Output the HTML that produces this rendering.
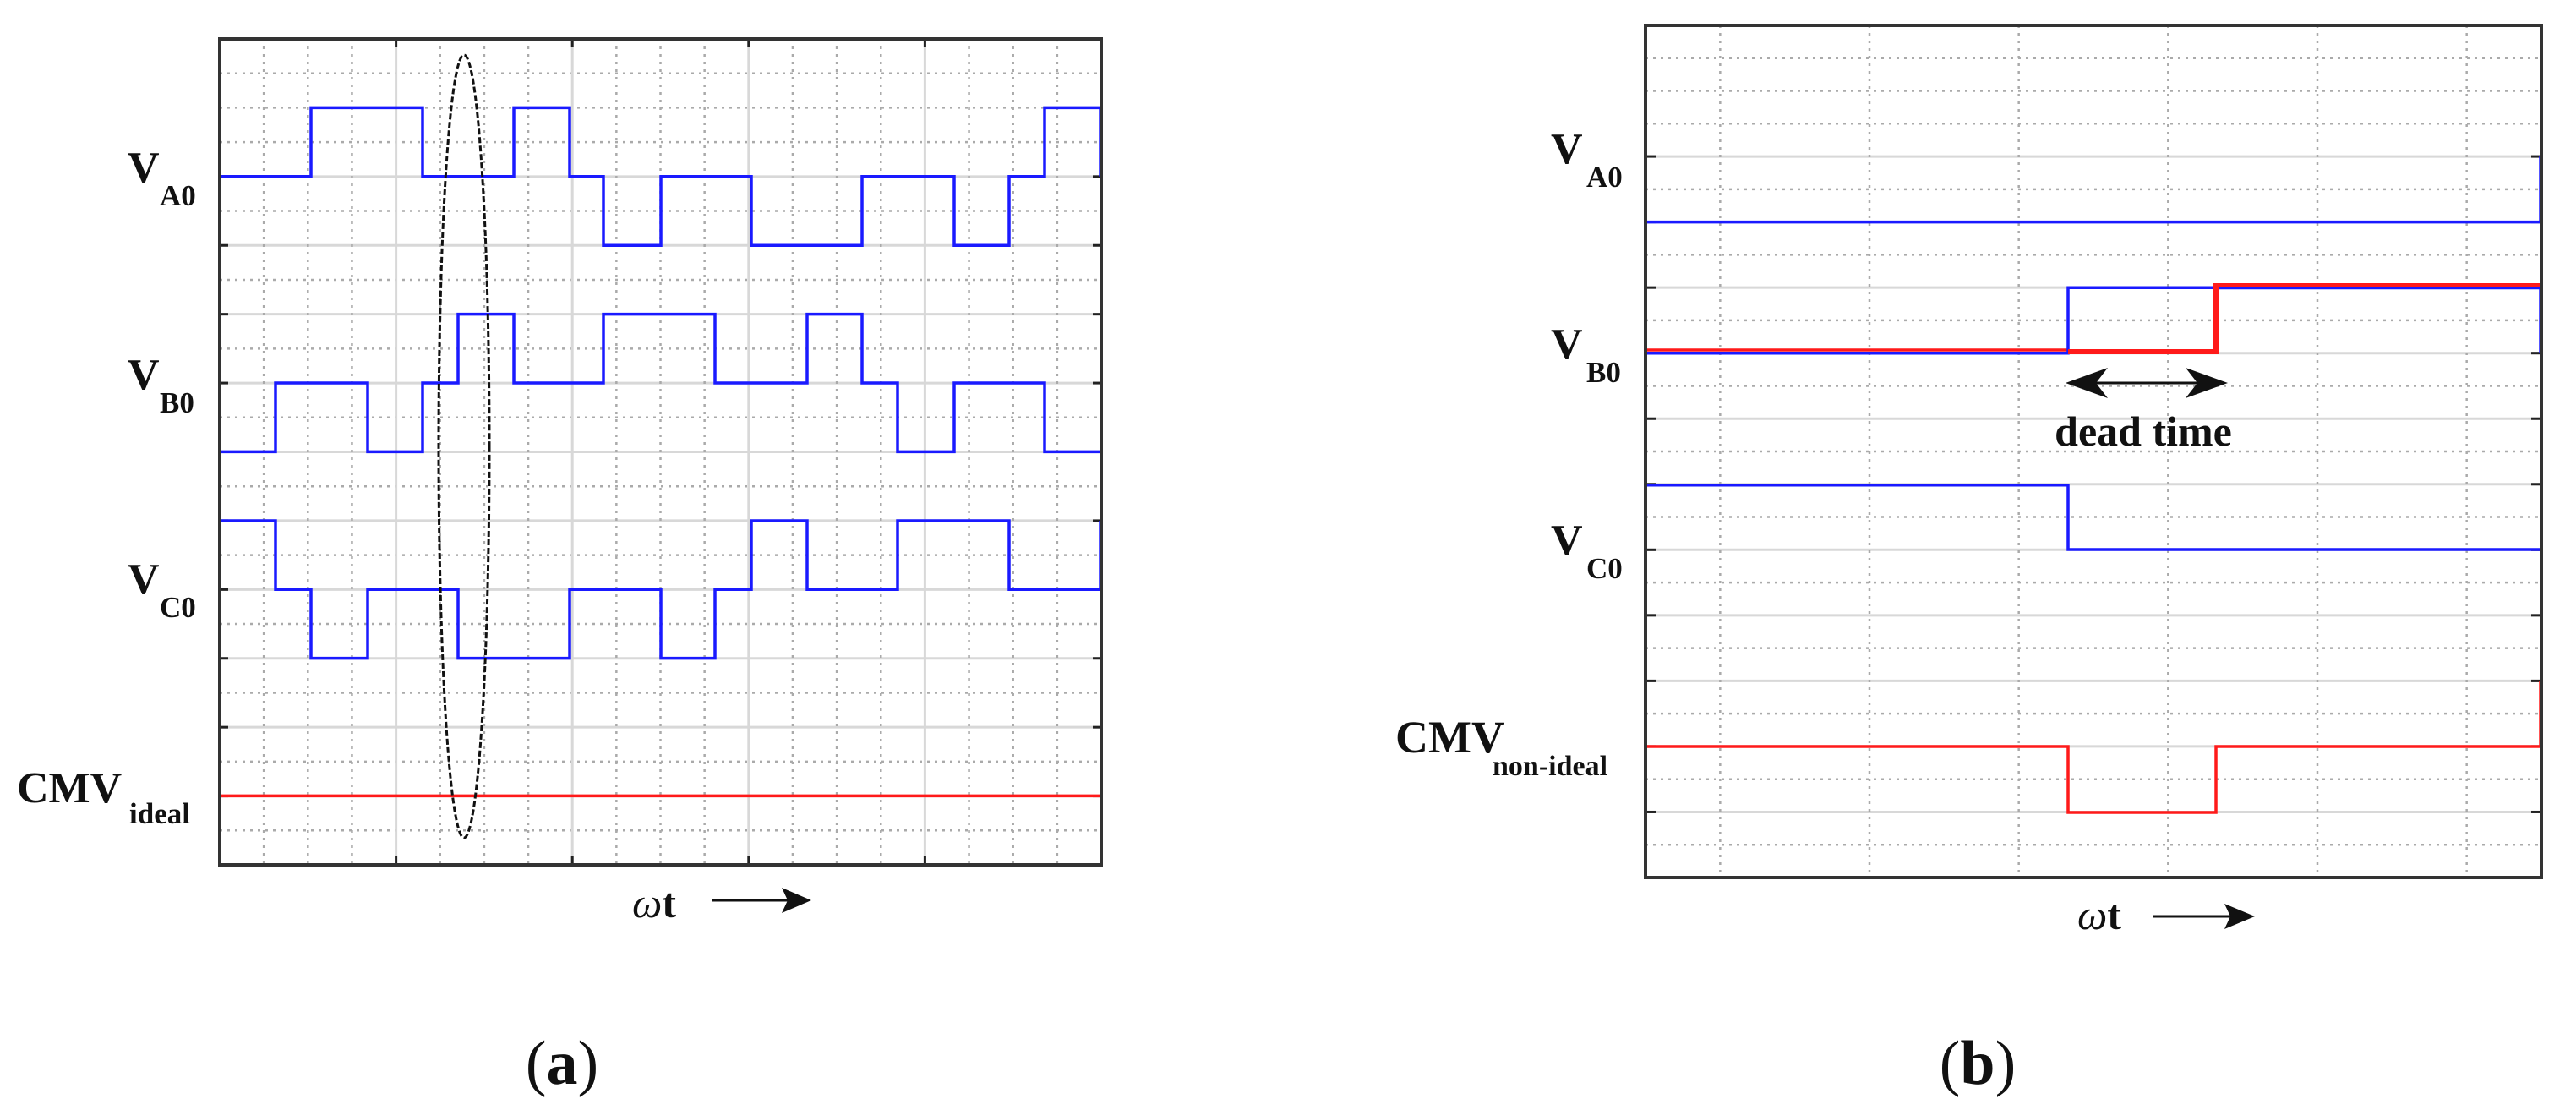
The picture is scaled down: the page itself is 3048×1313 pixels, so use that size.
<!DOCTYPE html>
<html><head><meta charset="utf-8"><style>
html,body{margin:0;padding:0;background:#fff;}
svg{display:block;}
text{font-family:"Liberation Serif",serif;font-weight:bold;fill:#111;}
</style></head><body>
<svg id="s" width="3048" height="1313" viewBox="0 0 3048 1313" xmlns="http://www.w3.org/2000/svg">
<g id="grid"></g>
<g fill="none" stroke="#1a1aff" stroke-width="3.5" stroke-linejoin="miter">
<polyline points="261,208.8 368,208.8 368,127.4 500,127.4 500,208.8 608,208.8 608,127.4 674,127.4 674,208.8 714,208.8 714,290.2 782,290.2 782,208.8 889,208.8 889,290.2 1020,290.2 1020,208.8 1129,208.8 1129,290.2 1194,290.2 1194,208.8 1236,208.8 1236,127.4 1302,127.4 1302,208.8"/>
<polyline points="261,534.4 326,534.4 326,453 435,453 435,534.4 500,534.4 500,453 542,453 542,371.6 608,371.6 608,453 714,453 714,371.6 846,371.6 846,453 955,453 955,371.6 1020,371.6 1020,453 1062,453 1062,534.4 1129,534.4 1129,453 1236,453 1236,534.4 1302,534.4"/>
<polyline points="261,616 326,616 326,697.2 368,697.2 368,778.6 435,778.6 435,697.2 542,697.2 542,778.6 674,778.6 674,697.2 782,697.2 782,778.6 846,778.6 846,697.2 889,697.2 889,616 955,616 955,697.2 1062,697.2 1062,616 1194,616 1194,697.2 1302,697.2 1302,616"/>
</g>
<line x1="261" y1="941.4" x2="1302" y2="941.4" stroke="#ff1a1a" stroke-width="3.5"/>
<ellipse cx="549" cy="528" rx="30" ry="463" fill="none" stroke="#111" stroke-width="3" stroke-dasharray="7 3"/>
<g fill="none" stroke-linejoin="miter">
<polyline points="1948,262.6 3006,262.6 3006,185" stroke="#1a1aff" stroke-width="3.5"/>
<polyline points="1948,414 2447,414" stroke="#ff1a1a" stroke-width="3.5"/>
<polyline points="1948,417.7 2447,417.7 2447,340.2 3006,340.2 3006,417.7" stroke="#1a1aff" stroke-width="3.5"/>
<polyline points="2447,416 2622,416 2622,338 3006,338" stroke="#ff1a1a" stroke-width="6"/>
<polyline points="2625,341 3006,341" stroke="#1a1aff" stroke-width="2.5"/>
<polyline points="1948,573.8 2447,573.8 2447,650 3006,650" stroke="#1a1aff" stroke-width="3.5"/>
<polyline points="1948,883 2447,883 2447,961 2622,961 2622,883 3006,883 3006,805" stroke="#ff1a1a" stroke-width="3.5"/>
</g>
<line x1="2470" y1="453" x2="2612" y2="453" stroke="#111" stroke-width="3"/>
<path d="M2444,453 L2494,435 L2480,453 L2494,471 Z" fill="#111"/>
<path d="M2636,453 L2586,435 L2600,453 L2586,471 Z" fill="#111"/>
<text x="2536" y="527" font-size="50" text-anchor="middle">dead time</text>
<rect x="260" y="46" width="1043" height="977" fill="none" stroke="#333" stroke-width="4"/>
<rect x="1947" y="30" width="1060" height="1008" fill="none" stroke="#333" stroke-width="4"/>
<text x="151" y="215" font-size="52">V</text><text x="189" y="243" font-size="35">A0</text>
<text x="151" y="460" font-size="52">V</text><text x="189" y="488" font-size="35">B0</text>
<text x="151" y="702" font-size="52">V</text><text x="189" y="730" font-size="35">C0</text>
<text x="20" y="949" font-size="52">CMV</text><text x="153" y="974" font-size="35">ideal</text>
<text x="1835" y="193" font-size="52">V</text><text x="1877" y="221" font-size="35">A0</text>
<text x="1835" y="424" font-size="52">V</text><text x="1877" y="452" font-size="35">B0</text>
<text x="1835" y="656" font-size="52">V</text><text x="1877" y="684" font-size="35">C0</text>
<text x="1651" y="890" font-size="54">CMV</text><text x="1766" y="917" font-size="34">non-ideal</text>
<text x="748" y="1085" font-size="50" style="font-style:italic;font-weight:normal">ω<tspan style="font-style:normal;font-weight:bold">t</tspan></text>
<line x1="843" y1="1065" x2="935" y2="1065" stroke="#111" stroke-width="3"/>
<path d="M960,1065 L925,1050 L932,1065 L925,1080 Z" fill="#111"/>
<text x="2458" y="1099" font-size="50" style="font-style:italic;font-weight:normal">ω<tspan style="font-style:normal;font-weight:bold">t</tspan></text>
<line x1="2548" y1="1084" x2="2642" y2="1084" stroke="#111" stroke-width="3"/>
<path d="M2668,1084 L2632,1069 L2639,1084 L2632,1099 Z" fill="#111"/>
<text x="665" y="1282" font-size="74" text-anchor="middle" style="font-weight:normal">(<tspan style="font-weight:bold">a</tspan>)</text>
<text x="2340" y="1282" font-size="74" text-anchor="middle" style="font-weight:normal">(<tspan style="font-weight:bold">b</tspan>)</text>
</svg>
<script>
(function(){
var g=document.getElementById('grid'),NS='http://www.w3.org/2000/svg';
function L(x1,y1,x2,y2,st,w,da){var l=document.createElementNS(NS,'line');l.setAttribute('x1',x1);l.setAttribute('y1',y1);l.setAttribute('x2',x2);l.setAttribute('y2',y2);l.setAttribute('stroke',st);l.setAttribute('stroke-width',w);if(da)l.setAttribute('stroke-dasharray',da);g.appendChild(l);}
var ax0=260,ax1=1303,ay0=46,ay1=1023,cw=(ax1-ax0)/20,rh=(ay1-ay0)/24;
for(var r=1;r<24;r++){var y=ay0+r*rh;if(r>=4&&r%2==0){L(ax0,y,ax1,y,'#d8d8d8',3);L(ax0,y,ax0+10,y,'#222',3);L(ax1-10,y,ax1,y,'#222',3);}else L(ax0,y,ax1,y,'#aaa',2.5,'3 6');}
for(var c=1;c<20;c++){var x=ax0+c*cw;if(c%4==0){L(x,ay0,x,ay1,'#d8d8d8',3);L(x,ay0,x,ay0+10,'#222',3);L(x,ay1-10,x,ay1,'#222',3);}else L(x,ay0,x,ay1,'#aaa',2.5,'3 6');}
var bx0=1947,bx1=3007,by0=30,by1=1038,bw=(bx1-bx0)/6,bh=(by1-by0)/26;
for(var r=1;r<26;r++){var y=by0+r*bh;if(r>=4&&r%2==0){L(bx0,y,bx1,y,'#d8d8d8',3);L(bx0,y,bx0+12,y,'#222',3);L(bx1-12,y,bx1,y,'#222',3);}else L(bx0,y,bx1,y,'#aaa',2.5,'3 6');}
for(var c=0;c<6;c++){var x=bx0+bw/2+c*bw;L(x,by0,x,by1,'#aaa',2.5,'3 6');}
})();
</script>
</body></html>
